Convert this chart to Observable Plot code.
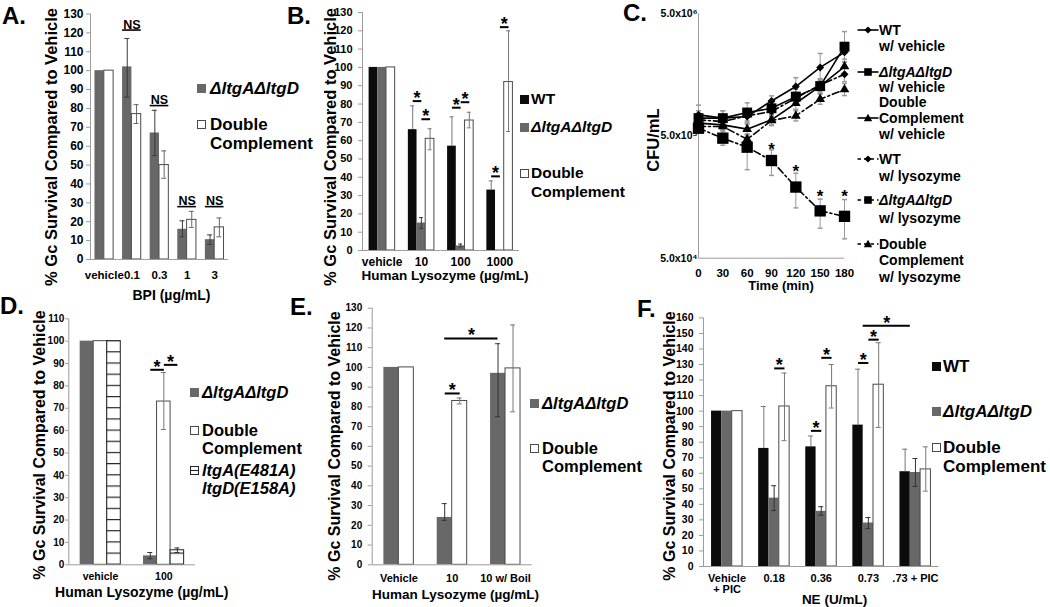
<!DOCTYPE html>
<html>
<head>
<meta charset="utf-8">
<script src="https://cdn.jsdelivr.net/npm/d3@7"></script>
<script src="https://cdn.jsdelivr.net/npm/@observablehq/plot@0.6"></script>
<style>
html,body{margin:0;padding:0;background:#fff;}
#fig{position:relative;width:1050px;height:607px;overflow:hidden;background:#fff;
 font-family:"Liberation Sans",Arial,Helvetica,sans-serif;font-weight:bold;color:#000;}
.panel{position:absolute;}
.t{position:absolute;white-space:nowrap;line-height:1;}
</style>
</head>
<body>
<div id="fig"></div>
<script>
// ================= DATA =================
// Panel A
const aGroups = ["vehicle", "0.1", "0.3", "1", "3"];
const aMut = [100, 102, 67, 16, 10.5];
const aMutLo = [100, 86, 55, 12, 8];
const aMutHi = [100, 117, 79, 20.5, 13];
const aComp = [100, 77, 50, 21, 17];
const aCompLo = [100, 72, 43, 17, 12];
const aCompHi = [100, 82, 57.5, 25.5, 22];
const aNSGroups = ["0.1", "0.3", "1", "3"];
const aNSY = [121.5, 81.5, 28, 28];
const aTicks = [0, 10, 20, 30, 40, 50, 60, 70, 80, 90, 100, 110, 120, 130];

// Panel B
const bGroups = ["vehicle", "10", "100", "1000"];
const bWT = [100, 66, 57, 33];
const bWTHi = [100, 79, 73, 38];
const bMut = [100, 15, 2.5, 0.3];
const bMutLo = [100, 12, 2, 0.3];
const bMutHi = [100, 18, 3.5, 0.3];
const bComp = [100, 61, 71, 92];
const bCompLo = [100, 55, 67, 65];
const bCompHi = [100, 66.5, 75.5, 120];
const bSigGroup = ["10", "10", "100", "100", "1000", "1000"];
const bSigFrom = [0, 1, 0, 1, 0, 1];
const bSigTo = [1, 2, 1, 2, 1, 2];
const bSigY = [81.6, 71.7, 78, 81, 40.5, 122];
const bTicks = [0, 10, 20, 30, 40, 50, 60, 70, 80, 90, 100, 110, 120, 130];

// Panel C (CFU/mL over time)
const cTimes = [0, 30, 60, 90, 120, 150, 180];
const cWTVeh = [745e3, 700e3, 721e3, 968e3, 1.27e6, 1.82e6, 2.42e6];
const cWTVehErr = [1.2, 1.15, 1.15, 1.1, 1.18, 1.3, 1.2];
const cMutVeh = [700e3, 700e3, 778e3, 843e3, 1.05e6, 1.28e6, 2.69e6];
const cMutVehErr = [1.15, 1.15, 1.2, 1.12, 1.15, 1.15, 1.33];
const cDCVeh = [637e3, 617e3, 569e3, 678e3, 927e3, 1.28e6, 1.85e6];
const cDCVehErr = [1.1, 1.1, 1.1, 1.1, 1.12, 1.12, 1.15];
const cWTLys = [678e3, 656e3, 731e3, 793e3, 1.02e6, 1.31e6, 1.6e6];
const cWTLysErr = [1.1, 1.1, 1.1, 1.1, 1.12, 1.12, 1.15];
const cMutLys = [579e3, 480e3, 405e3, 315e3, 191e3, 122e3, 110e3];
const cMutLysLo = [540e3, 420e3, 265e3, 238e3, 129e3, 88e3, 72e3];
const cMutLysHi = [620e3, 561e3, 500e3, 385e3, 248e3, 152e3, 151e3];
const cDCLys = [598e3, 598e3, 470e3, 669e3, 731e3, 1.0e6, 1.2e6];
const cDCLysErr = [1.1, 1.1, 1.1, 1.1, 1.1, 1.1, 1.12];
const cStarTimes = [90, 120, 150, 180];
const cStarY = [418e3, 277e3, 173e3, 171e3];
const cYTicks = [5e4, 5e5, 5e6];
const cYTickLabels = ["5.0x10\u2074", "5.0x10\u2075", "5.0x10\u2076"];

// Panel D
const dGroups = ["vehicle", "100"];
const dMut = [100, 4];
const dMutLo = [100, 2.7];
const dMutHi = [100, 5.5];
const dComp = [100, 73];
const dCompLo = [100, 60.5];
const dCompHi = [100, 86];
const dPoint = [100, 6.5];
const dPointLo = [100, 5.5];
const dPointHi = [100, 7.5];
const dSigGroup = ["100", "100"];
const dSigFrom = [0, 1];
const dSigTo = [1, 2];
const dSigY = [87.2, 89.4];
const dTicks = [0, 10, 20, 30, 40, 50, 60, 70, 80, 90, 100, 110];

// Panel E
const eGroups = ["Vehicle", "10", "10 w/ Boil"];
const eMut = [100, 24, 97];
const eMutLo = [100, 22.5, 75];
const eMutHi = [100, 31, 112];
const eComp = [100, 83, 99.5];
const eCompLo = [100, 81.5, 77.5];
const eCompHi = [100, 84.5, 121.5];
const eSigGroup = ["10"];
const eSigFrom = [0];
const eSigTo = [1];
const eSigY = [86.8];
const eCrossY = 114.7;
const eTicks = [0, 10, 20, 30, 40, 50, 60, 70, 80, 90, 100, 110, 120, 130];

// Panel F
const fGroups = ["Vehicle + PIC", "0.18", "0.36", "0.73", ".73 + PIC"];
const fTickLabels = ["Vehicle\n+ PIC", "0.18", "0.36", "0.73", ".73 + PIC"];
const fWT = [100, 76, 77, 91, 61];
const fWTHi = [100, 103, 84, 127, 75.5];
const fMut = [100, 44, 35.5, 28, 60.5];
const fMutLo = [100, 36, 33, 24.5, 51.5];
const fMutHi = [100, 52, 38.5, 31.5, 69.5];
const fComp = [100, 103, 116, 117, 62.5];
const fCompLo = [100, 81, 102, 89.5, 48.5];
const fCompHi = [100, 124.5, 130, 144, 77];
const fSigGroup = ["0.18", "0.36", "0.36", "0.73", "0.73"];
const fSigFrom = [1, 0, 1, 0, 1];
const fSigTo = [2, 1, 2, 1, 2];
const fSigY = [127.5, 87.3, 134.3, 131, 146];
const fCrossY = 155;
const fTicks = [0, 10, 20, 30, 40, 50, 60, 70, 80, 90, 100, 110, 120, 130, 140, 150, 160];

// ================= STYLE / HELPERS =================
const FONT = '"Liberation Sans", Arial, Helvetica, sans-serif';
const AXIS = "#9c9c9c";
const BLACK = "#0b0b0b", GRAY = "#686868", OUTLINE = "#4a4a4a";
const fig = document.getElementById("fig");
const YTITLE = "% Gc Survival Compared to Vehicle";

function place(node, left, top) {
  const d = document.createElement("div");
  d.className = "panel";
  d.style.left = left + "px";
  d.style.top = top + "px";
  d.appendChild(node);
  fig.appendChild(d);
}
function text(str, x, y, o = {}) {
  const d = document.createElement("div");
  d.className = "t";
  d.textContent = str;
  d.style.left = x + "px";
  d.style.top = y + "px";
  d.style.fontSize = (o.size || 14) + "px";
  if (o.italic) d.style.fontStyle = "italic";
  let tr = o.anchor === "middle" ? "translate(-50%,-50%)" : "translate(0,-50%)";
  if (o.rotate) tr = "translate(-50%,-50%) rotate(-90deg)";
  d.style.transform = tr;
  fig.appendChild(d);
}
function swatch(x, y, kind) {
  const d = document.createElement("div");
  d.className = "t";
  Object.assign(d.style, {left: x + "px", top: (y - 4.5) + "px", width: "9px", height: "9px", boxSizing: "border-box"});
  if (kind === "black") d.style.background = BLACK;
  else if (kind === "gray") d.style.background = GRAY;
  else if (kind === "white") { d.style.background = "#fff"; d.style.border = "1px solid " + OUTLINE; }
  else if (kind === "hatch") { d.style.background = "linear-gradient(#fff 0 42%, #222 42% 58%, #fff 58%)"; d.style.border = "1px solid #222"; }
  fig.appendChild(d);
}
const plotStyle = (size) => ({fontFamily: FONT, fontWeight: "bold", fontSize: size + "px", background: "transparent", overflow: "visible", color: "#000"});

function barPanel(cfg) {
  const {groups, tickLabels, series, width, height, ml, mr, mt, mb, yMax, yTicks, p,
    yFont, yTickSize, yTickPad, xFont, xTickPad, sig = [], cross = null, ns = [], capW = 5, starSize = 18} = cfg;
  const n = series.length;
  const W = (width - ml - mr) / groups.length;
  const w = W / (n + 2 * p);
  const keys = series.map(s => s.key);
  const rows = [];
  for (const s of series) groups.forEach((g, i) => rows.push({group: g, series: s.key, value: s.values[i], lo: s.lo[i], hi: s.hi[i]}));
  const marks = [];
  for (const s of series) {
    marks.push(Plot.barY(rows.filter(d => d.series === s.key), {
      fx: "group", x: "series", y: "value", fill: s.fill, stroke: s.stroke || "none", strokeWidth: 1
    }));
  }
  const ins = Math.max(0, (w - capW) / 2);
  for (const s of series) {
    const r = rows.filter(d => d.series === s.key && (d.hi > d.value || d.lo < d.value));
    marks.push(Plot.ruleX(r, {fx: "group", x: "series", y1: "lo", y2: "hi", stroke: s.err, strokeWidth: 1}));
    marks.push(Plot.tickY(r.filter(d => d.hi > d.value), {fx: "group", x: "series", y: "hi", stroke: s.err, strokeWidth: 1, insetLeft: ins, insetRight: ins}));
    marks.push(Plot.tickY(r.filter(d => d.lo < d.value), {fx: "group", x: "series", y: "lo", stroke: s.err, strokeWidth: 1, insetLeft: ins, insetRight: ins}));
  }
  // axis lines
  marks.push(Plot.ruleY([0], {stroke: AXIS, strokeWidth: 1}));
  marks.push(Plot.ruleX([0], {fx: () => groups[0], x: () => keys[0], dx: -(p + 0.5) * w, stroke: AXIS, strokeWidth: 1}));
  // significance
  const sigRows = sig.map(([g, a, b, y]) => ({group: g, a: keys[a], b: keys[b], y}));
  if (sigRows.length) {
    marks.push(Plot.link(sigRows, {fx: "group", x1: "a", x2: "b", y1: "y", y2: "y", stroke: "#000", strokeWidth: 2}));
    marks.push(Plot.text(sigRows, {fx: "group", x: "a", y: "y", text: () => "*", dx: w / 2, dy: 3, lineAnchor: "bottom", fontSize: starSize}));
  }
  if (cross) {
    const {group, k, edge, y} = cross;
    const c = (p + k + edge) * w;
    marks.push(Plot.ruleY([{group, y}], {fx: "group", y: "y", insetLeft: c, insetRight: -c, stroke: "#000", strokeWidth: 2}));
    marks.push(Plot.text([{group, y}], {fx: "group", y: "y", text: () => "*", dx: c, dy: 3, lineAnchor: "bottom", fontSize: starSize}));
  }
  if (ns.length) {
    marks.push(Plot.ruleY(ns, {fx: "group", y: "y", insetLeft: p * w, insetRight: p * w, stroke: "#000", strokeWidth: 1.6}));
    marks.push(Plot.text(ns, {fx: "group", y: "y", text: () => "NS", lineAnchor: "bottom", dy: -1.5, fontSize: 12.5}));
  }
  marks.push(Plot.axisY({ticks: yTicks, tickSize: yTickSize, tickPadding: yTickPad, stroke: AXIS, fill: "#000", label: null, fontSize: yFont}));
  marks.push(Plot.axisFx({anchor: "bottom", tickSize: 0, tickPadding: xTickPad, label: null, fontSize: xFont,
    tickFormat: g => tickLabels[groups.indexOf(g)]}));
  return Plot.plot({
    width, height, marginLeft: ml, marginRight: mr, marginTop: mt, marginBottom: mb,
    x: {domain: keys, paddingInner: 0, paddingOuter: p, round: false, axis: null},
    fx: {domain: groups, padding: 0, round: false},
    y: {domain: [0, yMax]},
    style: plotStyle(xFont),
    marks
  });
}

// ================= PANEL A =================
place(barPanel({
  groups: aGroups, tickLabels: aGroups,
  series: [
    {key: "mut", values: aMut, lo: aMutLo, hi: aMutHi, fill: GRAY, err: "#3a3a3a"},
    {key: "comp", values: aComp, lo: aCompLo, hi: aCompHi, fill: "#fff", stroke: OUTLINE, err: "#666"}
  ],
  width: 240, height: 300, ml: 90, mr: 12, mt: 13.5, mb: 41, yMax: 130, yTicks: aTicks, p: 0.48,
  yFont: 12, yTickSize: 4, yTickPad: 3, xFont: 11.5, xTickPad: 11,
  ns: aNSGroups.map((g, i) => ({group: g, y: aNSY[i]}))
}), 0, 0);

// ================= PANEL B =================
place(barPanel({
  groups: bGroups, tickLabels: bGroups,
  series: [
    {key: "WT", values: bWT, lo: bWT, hi: bWTHi, fill: BLACK, err: "#777"},
    {key: "mut", values: bMut, lo: bMutLo, hi: bMutHi, fill: GRAY, err: "#3a3a3a"},
    {key: "comp", values: bComp, lo: bCompLo, hi: bCompHi, fill: "#fff", stroke: OUTLINE, err: "#777"}
  ],
  width: 230, height: 300, ml: 62, mr: 11, mt: 12, mb: 50, yMax: 130, yTicks: bTicks, p: 0.76,
  yFont: 11, yTickSize: 4, yTickPad: 6, xFont: 12, xTickPad: 7.4, capW: 4,
  sig: bSigGroup.map((g, i) => [g, bSigFrom[i], bSigTo[i], bSigY[i]])
}), 300, 0);

// ================= PANEL C =================
(function () {
  const diamondSym = {draw(ctx, size) { const s = Math.sqrt(size) / 2 * 1.1; ctx.moveTo(0, -s); ctx.lineTo(s, 0); ctx.lineTo(0, s); ctx.lineTo(-s, 0); ctx.closePath(); }};
  const capSym = {draw(ctx, size) { const s = Math.sqrt(size) / 2; ctx.moveTo(-s, 0); ctx.lineTo(s, 0); }};
  const series = [
    {key: "WT veh", v: cWTVeh, f: cWTVehErr, sym: diamondSym, r: 4.1, dash: null},
    {key: "Mut veh", v: cMutVeh, f: cMutVehErr, sym: "square", r: 5.6, dash: null},
    {key: "DC veh", v: cDCVeh, f: cDCVehErr, sym: "triangle", r: 3.6, dash: null},
    {key: "WT lys", v: cWTLys, f: cWTLysErr, sym: diamondSym, r: 4.1, dash: "7,3,2,3"},
    {key: "Mut lys", v: cMutLys, lo: cMutLysLo, hi: cMutLysHi, sym: "square", r: 6.4, dash: "7,3,2,3"},
    {key: "DC lys", v: cDCLys, f: cDCLysErr, sym: "triangle", r: 3.6, dash: "7,3,2,3"}
  ];
  const marks = [
    Plot.ruleY([5e4], {stroke: AXIS}),
    Plot.ruleX([0], {stroke: AXIS})
  ];
  for (const s of series) {
    const rows = cTimes.map((t, i) => ({t, v: s.v[i],
      lo: s.lo ? s.lo[i] : s.v[i] / s.f[i], hi: s.hi ? s.hi[i] : s.v[i] * s.f[i]}));
    marks.push(Plot.ruleX(rows, {x: "t", y1: "lo", y2: "hi", stroke: "#999", strokeWidth: 1}));
    marks.push(Plot.dot(rows, {x: "t", y: "hi", symbol: capSym, r: 2.8, stroke: "#999", fill: "none"}));
    marks.push(Plot.dot(rows, {x: "t", y: "lo", symbol: capSym, r: 2.8, stroke: "#999", fill: "none"}));
  }
  for (const s of series) {
    const rows = cTimes.map((t, i) => ({t, v: s.v[i]}));
    marks.push(Plot.line(rows, {x: "t", y: "v", stroke: "#000", strokeWidth: 1.6, strokeDasharray: s.dash || undefined}));
    marks.push(Plot.dot(rows, {x: "t", y: "v", symbol: s.sym, r: s.r, fill: "#000", stroke: "none"}));
  }
  marks.push(Plot.text(cStarTimes.map((t, i) => ({t, y: cStarY[i]})), {x: "t", y: "y", text: () => "*", fontSize: 17, dy: 4}));
  marks.push(Plot.axisY({ticks: cYTicks, tickFormat: d => cYTickLabels[cYTicks.indexOf(d)], tickSize: 0, tickPadding: 1, fontSize: 10.5, label: null}));
  marks.push(Plot.axisX({ticks: cTimes, tickSize: 0, tickPadding: 11, fontSize: 11.5, label: null}));
  place(Plot.plot({
    width: 215, height: 300, marginLeft: 58, marginRight: 11, marginTop: 13.3, marginBottom: 42.3,
    x: {domain: [0, 180]},
    y: {type: "log", domain: [5e4, 5e6]},
    style: plotStyle(11.5),
    marks
  }), 640, 0);
})();

// ================= PANEL D =================
(function () {
  const svg = barPanel({
    groups: dGroups, tickLabels: dGroups,
    series: [
      {key: "mut", values: dMut, lo: dMutLo, hi: dMutHi, fill: GRAY, err: "#333"},
      {key: "comp", values: dComp, lo: dCompLo, hi: dCompHi, fill: "#fff", stroke: OUTLINE, err: "#777"},
      {key: "point", values: dPoint, lo: dPointLo, hi: dPointHi, fill: "url(#hatchD)", stroke: "#222", err: "#333"}
    ],
    width: 210, height: 307, ml: 68.3, mr: 15, mt: 18.3, mb: 42.7, yMax: 110, yTicks: dTicks, p: 0.84,
    yFont: 10, yTickSize: 3, yTickPad: 1.5, xFont: 10.5, xTickPad: 8, capW: 5,
    sig: dSigGroup.map((g, i) => [g, dSigFrom[i], dSigTo[i], dSigY[i]])
  });
  const ys = svg.scale("y");
  const y0 = ys.apply(0), h = Math.abs(ys.apply(5) - y0);
  const r = ((y0 % h) + h) % h;
  const ns = "http://www.w3.org/2000/svg";
  const defs = document.createElementNS(ns, "defs");
  const pat = document.createElementNS(ns, "pattern");
  pat.setAttribute("id", "hatchD");
  pat.setAttribute("patternUnits", "userSpaceOnUse");
  pat.setAttribute("width", 40);
  pat.setAttribute("height", h);
  const bg = document.createElementNS(ns, "rect");
  bg.setAttribute("width", 40); bg.setAttribute("height", h); bg.setAttribute("fill", "#fff");
  pat.appendChild(bg);
  for (const yy of [r - h, r, r + h]) {
    const ln = document.createElementNS(ns, "line");
    ln.setAttribute("x1", 0); ln.setAttribute("x2", 40);
    ln.setAttribute("y1", yy); ln.setAttribute("y2", yy);
    ln.setAttribute("stroke", "#222"); ln.setAttribute("stroke-width", 1.3);
    pat.appendChild(ln);
  }
  defs.appendChild(pat);
  svg.insertBefore(defs, svg.firstChild);
  place(svg, 0, 300);
})();

// ================= PANEL E =================
place(barPanel({
  groups: eGroups, tickLabels: eGroups,
  series: [
    {key: "mut", values: eMut, lo: eMutLo, hi: eMutHi, fill: GRAY, err: "#333"},
    {key: "comp", values: eComp, lo: eCompLo, hi: eCompHi, fill: "#fff", stroke: OUTLINE, err: "#777"}
  ],
  width: 240, height: 307, ml: 71.7, mr: 8.3, mt: 7.7, mb: 42.7, yMax: 130, yTicks: eTicks, p: 0.78,
  yFont: 10, yTickSize: 4, yTickPad: 6, xFont: 11, xTickPad: 9.7, capW: 5,
  sig: eSigGroup.map((g, i) => [g, eSigFrom[i], eSigTo[i], eSigY[i]]),
  cross: {group: "10", k: 0, edge: 0.5, y: eCrossY}
}), 300, 300);

// ================= PANEL F =================
place(barPanel({
  groups: fGroups, tickLabels: fTickLabels,
  series: [
    {key: "WT", values: fWT, lo: fWT, hi: fWTHi, fill: BLACK, err: "#777"},
    {key: "mut", values: fMut, lo: fMutLo, hi: fMutHi, fill: GRAY, err: "#333"},
    {key: "comp", values: fComp, lo: fCompLo, hi: fCompHi, fill: "#fff", stroke: OUTLINE, err: "#777"}
  ],
  width: 300, height: 307, ml: 63, mr: 1.5, mt: 17.4, mb: 41, yMax: 160, yTicks: fTicks, p: 0.78,
  yFont: 10.5, yTickSize: 4, yTickPad: 6, xFont: 11, xTickPad: 8, capW: 5,
  sig: fSigGroup.map((g, i) => [g, fSigFrom[i], fSigTo[i], fSigY[i]]),
  cross: {group: "0.73", k: 0, edge: 1, y: fCrossY}
}), 640, 300);

// ================= TEXT: titles & legends =================
// A
text("A.", 2, 16, {size: 24});
text(YTITLE, 51, 147, {size: 16.5, rotate: true});
text("BPI (\u00b5g/mL)", 171.5, 295, {size: 14, anchor: "middle"});
swatch(197, 88, "gray"); text("\u0394ltgA\u0394ltgD", 210, 88, {size: 17, italic: true});
swatch(197, 124, "white"); text("Double", 210, 124, {size: 17}); text("Complement", 210, 143, {size: 17});
// B
text("B.", 287, 16, {size: 24});
text(YTITLE, 329.5, 147, {size: 16.5, rotate: true});
text("Human Lysozyme (\u00b5g/mL)", 445, 276, {size: 13.5, anchor: "middle"});
swatch(520, 99, "black"); text("WT", 531, 99, {size: 15.5});
swatch(520, 127, "gray"); text("\u0394ltgA\u0394ltgD", 531, 127, {size: 15.5, italic: true});
swatch(520, 173, "white"); text("Double", 531, 173, {size: 15.5}); text("Complement", 531, 192, {size: 15.5});
// C
text("C.", 623, 13, {size: 24});
text("CFU/mL", 653, 140, {size: 16.5, rotate: true});
text("Time (min)", 781, 285, {size: 13, anchor: "middle"});
(function () {
  const ns = "http://www.w3.org/2000/svg";
  const paths = {
    diamond: "M0,-3.6L3.6,0L0,3.6L-3.6,0Z",
    square: "M-3.8,-3.8h7.6v7.6h-7.6Z",
    triangle: "M0,-4.2L4.2,3.2H-4.2Z"
  };
  function sym(y, kind, dashed) {
    const s = document.createElementNS(ns, "svg");
    s.setAttribute("width", 22); s.setAttribute("height", 14);
    Object.assign(s.style, {position: "absolute", left: "857px", top: (y - 7) + "px"});
    const l = document.createElementNS(ns, "line");
    l.setAttribute("x1", 0.5); l.setAttribute("x2", 21.5); l.setAttribute("y1", 7); l.setAttribute("y2", 7);
    l.setAttribute("stroke", "#000"); l.setAttribute("stroke-width", 1.6);
    if (dashed) l.setAttribute("stroke-dasharray", "3.5,3");
    s.appendChild(l);
    const p = document.createElementNS(ns, "path");
    p.setAttribute("d", paths[kind]); p.setAttribute("transform", "translate(11,7)"); p.setAttribute("fill", "#000");
    s.appendChild(p);
    fig.appendChild(s);
  }
  const X = 879, S = 14;
  sym(30, "diamond", false); text("WT", X, 30, {size: S}); text("w/ vehicle", X, 46, {size: S});
  sym(72, "square", false); text("\u0394ltgA\u0394ltgD", X, 72, {size: S, italic: true}); text("w/ vehicle", X, 87, {size: S});
  text("Double", X, 102, {size: S});
  sym(118, "triangle", false); text("Complement", X, 118, {size: S}); text("w/ vehicle", X, 134, {size: S});
  sym(159, "diamond", true); text("WT", X, 159, {size: S}); text("w/ lysozyme", X, 176, {size: S});
  sym(200, "square", true); text("\u0394ltgA\u0394ltgD", X, 200, {size: S, italic: true}); text("w/ lysozyme", X, 218, {size: S});
  sym(244, "triangle", true); text("Double", X, 244, {size: S}); text("Complement", X, 260, {size: S}); text("w/ lysozyme", X, 277, {size: S});
})();
// D
text("D.", 0, 306, {size: 24});
text(YTITLE, 39.5, 445, {size: 16, rotate: true});
text("Human Lysozyme (\u00b5g/mL)", 141.7, 592, {size: 14, anchor: "middle"});
swatch(190, 392, "gray"); text("\u0394ltgA\u0394ltgD", 202, 392, {size: 16.5, italic: true});
swatch(190, 430, "white"); text("Double", 202, 430, {size: 16.5}); text("Complement", 202, 448, {size: 16.5});
swatch(190, 470, "hatch"); text("ltgA(E481A)", 202, 470, {size: 16.5, italic: true}); text("ltgD(E158A)", 202, 488, {size: 16.5, italic: true});
// E
text("E.", 290, 307, {size: 24});
text(YTITLE, 335, 446, {size: 16, rotate: true});
text("Human Lysozyme (\u00b5g/mL)", 455.6, 595, {size: 13.5, anchor: "middle"});
swatch(530, 403, "gray"); text("\u0394ltgA\u0394ltgD", 542, 403, {size: 16.5, italic: true});
swatch(530, 448, "white"); text("Double", 542, 448, {size: 16.5}); text("Complement", 542, 466, {size: 16.5});
// F
text("F.", 637, 309, {size: 24});
text(YTITLE, 670, 446, {size: 16, rotate: true});
text("NE (U/mL)", 834.5, 600, {size: 13.5, anchor: "middle"});
swatch(932, 366, "black"); text("WT", 943, 366, {size: 17});
swatch(932, 411, "gray"); text("\u0394ltgA\u0394ltgD", 943, 411, {size: 17, italic: true});
swatch(932, 447, "white"); text("Double", 943, 447, {size: 17}); text("Complement", 943, 466, {size: 17});
</script>
</body>
</html>
